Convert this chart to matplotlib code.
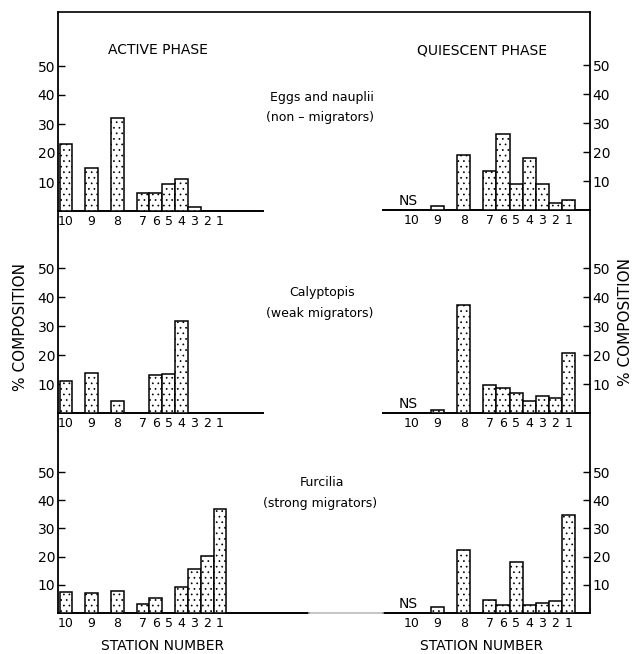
import numpy as np
import matplotlib
matplotlib.use("Agg")
import matplotlib.pyplot as plt
from matplotlib.lines import Line2D

# station order as printed left to right, NS = not sampled (nan)
stations = [10, 9, 8, 7, 6, 5, 4, 3, 2, 1]

active_eggs = [23.0, 15.0, 32.2, 6.3, 6.3, 9.2, 10.9, 1.5, 0, 0]
quiescent_eggs = [np.nan, 1.5, 19.0, 13.4, 26.3, 8.9, 17.8, 8.9, 2.5, 3.3]
active_calyptopis = [10.9, 13.8, 4.2, 0, 13.0, 13.6, 31.6, 0, 0, 0]
quiescent_calyptopis = [np.nan, 1.2, 37.1, 9.8, 8.6, 7.0, 4.1, 5.9, 5.3, 20.7]
active_furcilia = [7.3, 7.1, 7.9, 3.2, 5.3, 0, 9.1, 15.6, 20.1, 36.9]
quiescent_furcilia = [np.nan, 2.3, 22.4, 4.7, 3.0, 18.0, 3.0, 3.5, 4.1, 34.9]

yticks = [10, 20, 30, 40, 50]
group_titles = [("Eggs and nauplii", "(non \u2013 migrators)"),
                ("Calyptopis", "(weak migrators)"),
                ("Furcilia", "(strong migrators)")]

# x layout: stations 10, 9, 8 spaced two units apart, 7..1 adjacent
xpos = np.array([0, 2, 4, 6, 7, 8, 9, 10, 11, 12], dtype=float)

W, H = 633, 654
fig = plt.figure(figsize=(W / 100, H / 100), dpi=100)
plt.rcParams["hatch.linewidth"] = 0.5


def add_ax(x0, x1, y_base, scale):
    """Axes placed in pixel coords; y_base = baseline row, scale = px per %."""
    top = y_base - 55 * scale
    return fig.add_axes([x0 / W, 1 - y_base / H, (x1 - x0) / W, (y_base - top) / H])


def fig_line(xs, ys, **kw):
    fig.add_artist(Line2D([x / W for x in xs], [1 - y / H for y in ys],
                          transform=fig.transFigure, **kw))


def draw_panel(ax, vals, side, x0, x1, px0, ppu):
    vals = np.asarray(vals, dtype=float)
    ok = np.nan_to_num(vals) > 0
    ax.bar(xpos[ok], vals[ok], width=1.0, facecolor="white", edgecolor="black",
           hatch="...", linewidth=1.1, zorder=3)
    ax.set_xlim((x0 - px0) / ppu, (x1 - px0) / ppu)
    ax.set_ylim(0, 55)
    for s in ("top", "left", "right"):
        ax.spines[s].set_visible(False)
    ax.spines["bottom"].set_linewidth(1.4)
    ax.patch.set_alpha(0)
    ax.set_xticks(xpos, [str(s) for s in stations])
    ax.tick_params(axis="x", length=0, pad=3, labelsize=9)
    ax.set_yticks(yticks, [str(t) for t in yticks])
    if side == "right":
        ax.yaxis.tick_right()
    ax.tick_params(axis="y", direction="in", length=5, width=1, pad=2, labelsize=10)
    if np.isnan(vals[0]):
        ax.text(xpos[0] - 0.2, 0.6, "NS", ha="center", va="bottom", fontsize=10)


rows = [(active_eggs, quiescent_eggs, 211, 210, 2.9),
        (active_calyptopis, quiescent_calyptopis, 413, 413, 2.9),
        (active_furcilia, quiescent_furcilia, 613, 613, 2.82)]

for i, (act, qui, yl, yr, sc) in enumerate(rows):
    xr_left = 309 if i == 2 else 263
    axl = add_ax(58, xr_left, yl, sc)
    draw_panel(axl, act, "left", 58, xr_left, 66, 12.83)
    axr = add_ax(383, 590, yr, sc)
    draw_panel(axr, qui, "right", 383, 590, 411.3, 13.1)

# outer frame: top rule and the two continuous side axes
fig_line([58, 590], [12, 12], color="black", lw=1.2)
fig_line([58, 58], [12, 613], color="black", lw=1.3)
fig_line([590, 590], [12, 613], color="black", lw=1.3)
fig_line([309, 383], [613, 613], color="#bbbbbb", lw=1.2)

fig.text(158 / W, 1 - 50 / H, "ACTIVE PHASE", ha="center", va="center", fontsize=10)
fig.text(482 / W, 1 - 50 / H, "QUIESCENT PHASE", ha="center", va="center", fontsize=10)

for (name, sub), y1, y2 in zip(group_titles, [97, 292, 482], [118, 314, 504]):
    fig.text(322 / W, 1 - y1 / H, name, ha="center", va="center", fontsize=9)
    fig.text(320 / W, 1 - y2 / H, sub, ha="center", va="center", fontsize=9)

fig.text(21 / W, 1 - 327 / H, "% COMPOSITION", rotation=90, ha="center",
         va="center", fontsize=11)
fig.text(626 / W, 1 - 322 / H, "% COMPOSITION", rotation=90, ha="center",
         va="center", fontsize=11)
fig.text(163 / W, 1 - 646 / H, "STATION NUMBER", ha="center", va="center", fontsize=10)
fig.text(482 / W, 1 - 646 / H, "STATION NUMBER", ha="center", va="center", fontsize=10)

fig.savefig("out.png", dpi=100, facecolor="white")
